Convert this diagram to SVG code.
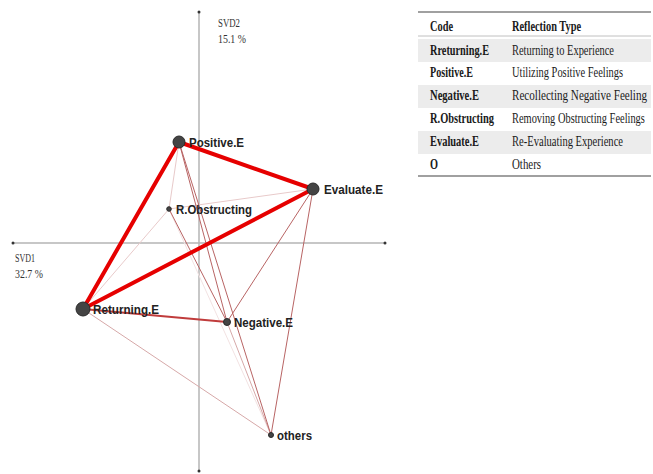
<svg xmlns="http://www.w3.org/2000/svg" width="653" height="474" viewBox="0 0 653 474">
<style>
.axis{stroke:#b4b4b4;stroke-width:1.5;fill:none}
.axdot{fill:#333}
.axlab{font-family:"Liberation Serif",serif;font-size:13.5px;fill:#333}
.lab{font-family:"Liberation Sans",Arial,sans-serif;font-size:13.5px;font-weight:bold;fill:#222}
.node{fill:#444;stroke:#2a2a2a;stroke-width:1}
.strong{stroke:#e60000;stroke-width:4;stroke-linecap:round}
.mid{stroke:#c03c3c;stroke-width:2.2}
.thin{stroke:#b86464;stroke-width:1}
.light{stroke:#d6a8a8;stroke-width:1}
.faint{stroke:#e8caca;stroke-width:1}
.vfaint{stroke:#f2e2e2;stroke-width:1}
.tcode{font-family:"Liberation Serif",serif;font-size:14px;font-weight:bold;fill:#1a1a1a}
.ttype{font-family:"Liberation Serif",serif;font-size:14px;fill:#1a1a1a}
.shade{fill:#ececec}
.rule{stroke:#a0a0a0;stroke-width:2}
.hrule{stroke:#c0c0c0;stroke-width:1}
</style>
<rect width="653" height="474" fill="#ffffff"/>
<g id="axes">
<line class="axis" x1="13" y1="243" x2="385" y2="243"/>
<line class="axis" x1="199" y1="12" x2="199" y2="472"/>
<circle class="axdot" cx="13" cy="243" r="1.5"/>
<circle class="axdot" cx="385" cy="243" r="1.5"/>
<circle class="axdot" cx="199" cy="12" r="1.5"/>
<circle class="axdot" cx="199" cy="471" r="1.5"/>
<text class="axlab" x="218" y="27" textLength="22" lengthAdjust="spacingAndGlyphs">SVD2</text>
<text class="axlab" x="218" y="43" textLength="28" lengthAdjust="spacingAndGlyphs">15.1 %</text>
<text class="axlab" x="15" y="262" textLength="20" lengthAdjust="spacingAndGlyphs">SVD1</text>
<text class="axlab" x="15" y="278" textLength="28" lengthAdjust="spacingAndGlyphs">32.7 %</text>
</g>
<g id="connectors">
<line class="vfaint" x1="169" y1="209" x2="271" y2="435"/>
<line class="faint" x1="179" y1="142" x2="169" y2="209"/>
<line class="faint" x1="313" y1="189" x2="169" y2="209"/>
<line class="faint" x1="169" y1="209" x2="83" y2="309"/>
<line class="light" x1="83" y1="309" x2="271" y2="435"/>
<line class="light" x1="227" y1="322" x2="271" y2="435"/>
<line class="thin" x1="169" y1="209" x2="227" y2="322"/>
<line class="thin" x1="179" y1="142" x2="227" y2="322"/>
<line class="thin" x1="179" y1="142" x2="271" y2="435"/>
<line class="thin" x1="313" y1="189" x2="227" y2="322"/>
<line class="thin" x1="313" y1="189" x2="271" y2="435"/>
<line class="mid" x1="83" y1="309" x2="227" y2="322"/>
<line class="strong" x1="179" y1="142" x2="313" y2="189"/>
<line class="strong" x1="179" y1="142" x2="83" y2="309"/>
<line class="strong" x1="313" y1="189" x2="83" y2="309"/>
</g>
<g id="node-positive">
<circle class="node" cx="179" cy="142" r="6"/>
<text class="lab" x="189" y="147" textLength="55" lengthAdjust="spacingAndGlyphs">Positive.E</text>
</g>
<g id="node-evaluate">
<circle class="node" cx="313" cy="189" r="6"/>
<text class="lab" x="324" y="194" textLength="59" lengthAdjust="spacingAndGlyphs">Evaluate.E</text>
</g>
<g id="node-robstructing">
<circle class="node" cx="169" cy="209" r="2.3"/>
<text class="lab" x="176" y="214" textLength="76" lengthAdjust="spacingAndGlyphs">R.Obstructing</text>
</g>
<g id="node-returning">
<circle class="node" cx="83" cy="309" r="7"/>
<text class="lab" x="93" y="314" textLength="66" lengthAdjust="spacingAndGlyphs">Returning.E</text>
</g>
<g id="node-negative">
<circle class="node" cx="227" cy="322" r="3.5"/>
<text class="lab" x="234" y="327" textLength="59" lengthAdjust="spacingAndGlyphs">Negative.E</text>
</g>
<g id="node-others">
<circle class="node" cx="271" cy="435" r="2.5"/>
<text class="lab" x="277" y="440" textLength="35" lengthAdjust="spacingAndGlyphs">others</text>
</g>
<g id="legend-table">
<rect class="shade" x="418" y="39" width="233" height="23"/>
<rect class="shade" x="418" y="85" width="233" height="23"/>
<rect class="shade" x="418" y="131" width="233" height="23"/>
<line class="rule" x1="418" y1="12" x2="651" y2="12"/>
<line class="hrule" x1="418" y1="36" x2="651" y2="36"/>
<line class="rule" x1="418" y1="176" x2="651" y2="176"/>
<g transform="translate(430,0) scale(0.8,1)">
<text class="tcode" x="0" y="31" textLength="28.75" lengthAdjust="spacingAndGlyphs">Code</text>
<text class="tcode" x="0" y="55" textLength="73.75" lengthAdjust="spacingAndGlyphs">Rreturning.E</text>
<text class="tcode" x="0" y="77" textLength="53.75" lengthAdjust="spacingAndGlyphs">Positive.E</text>
<text class="tcode" x="0" y="100" textLength="61.25" lengthAdjust="spacingAndGlyphs">Negative.E</text>
<text class="tcode" x="0" y="123" textLength="80" lengthAdjust="spacingAndGlyphs">R.Obstructing</text>
<text class="tcode" x="0" y="146" textLength="61.25" lengthAdjust="spacingAndGlyphs">Evaluate.E</text>
<text class="tcode" x="0" y="169" textLength="10" lengthAdjust="spacingAndGlyphs">O</text>
</g>
<g transform="translate(512,0) scale(0.8,1)">
<text class="tcode" x="0" y="31" textLength="86.25" lengthAdjust="spacingAndGlyphs">Reflection Type</text>
<text class="ttype" x="0" y="55" textLength="127.5" lengthAdjust="spacingAndGlyphs">Returning to Experience</text>
<text class="ttype" x="0" y="77" textLength="138.75" lengthAdjust="spacingAndGlyphs">Utilizing Positive Feelings</text>
<text class="ttype" x="0" y="100" textLength="168.75" lengthAdjust="spacingAndGlyphs">Recollecting Negative Feeling</text>
<text class="ttype" x="0" y="146" textLength="138.75" lengthAdjust="spacingAndGlyphs">Re-Evaluating Experience</text>
<text class="ttype" x="0" y="169" textLength="36.25" lengthAdjust="spacingAndGlyphs">Others</text>
</g>
<g transform="translate(512,0) scale(0.73,1)">
<text class="ttype" x="0" y="123" textLength="182" lengthAdjust="spacingAndGlyphs">Removing Obstructing Feelings</text>
</g>
</g>
</svg>
